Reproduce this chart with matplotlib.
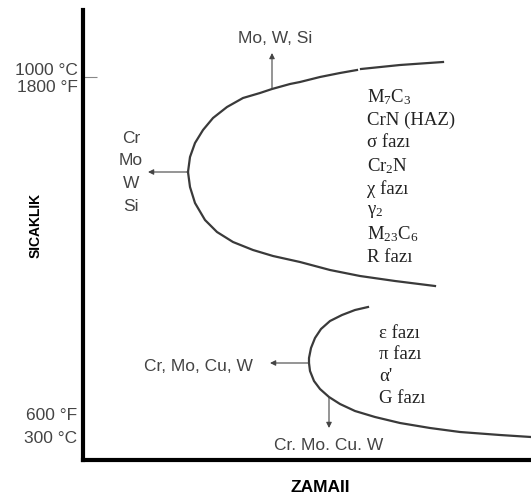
import matplotlib
matplotlib.use("Agg")
import matplotlib.pyplot as plt

plt.rcParams['mathtext.fontset'] = 'custom'
plt.rcParams['mathtext.rm'] = 'Liberation Serif'

# Coordonnées (x vers la droite, y vers le bas)
# Courbe C supérieure : branche haute (coupée en deux) et branche basse
upper_x1 = [357, 340, 320, 300, 290, 272, 260, 243, 227, 213, 203, 195, 190, 188]
upper_y1 = [70, 73, 77, 82, 84, 89, 93, 98, 107, 118, 130, 143, 157, 172]
upper_x2 = [361, 400, 443]
upper_y2 = [69, 65, 62]
upper_low_x = [188, 190, 195, 205, 217, 233, 253, 273, 300, 330, 360, 395, 435]
upper_low_y = [172, 187, 203, 220, 232, 242, 250, 256, 262, 270, 276, 281, 286]

# Courbe C inférieure
lower_x = [368, 355, 342, 330, 321, 315, 311, 309, 309, 310, 314, 320, 329, 340, 355, 375,
           400, 430, 460, 500, 531]
lower_y = [307, 310, 315, 321, 329, 338, 348, 358, 363, 371, 381, 389, 397, 404, 411, 417,
           423, 428, 432, 435, 437]

upper_phases = [r'$\mathregular{M_7C_3}$', 'CrN (HAZ)', 'σ fazı', r'$\mathregular{Cr_2N}$',
                'χ fazı', r'$\mathregular{γ_2}$', r'$\mathregular{M_{23}C_6}$', 'R fazı']
lower_phases = ['ε fazı', 'π fazı', "α'", 'G fazı']
left_elements = ['Cr', 'Mo', 'W', 'Si']

gray = '#444444'
curve_col = '#3a3a3a'

fig = plt.figure(figsize=(5.31, 4.98), dpi=100)
ax = fig.add_axes([83 / 531, 38 / 498, 448 / 531, 450 / 498])
ax.set_xlim(83, 531)
ax.set_ylim(460, 10)
for s in ['top', 'right']:
    ax.spines[s].set_visible(False)
for s in ['left', 'bottom']:
    ax.spines[s].set_linewidth(3)
    ax.spines[s].set_color('black')
ax.set_xticks([])
ax.set_yticks([77])
ax.set_yticklabels([])
ax.tick_params(axis='y', direction='in', length=10, width=0.8, color='#888888')

# Courbes
ax.plot(upper_x1, upper_y1, color=curve_col, lw=1.6)
ax.plot(upper_x2, upper_y2, color=curve_col, lw=1.6)
ax.plot(upper_low_x, upper_low_y, color=curve_col, lw=1.6)
ax.plot(lower_x, lower_y, color=curve_col, lw=1.6, clip_on=False)

# Flèches
arrow = dict(arrowstyle='-|>', color=gray, lw=0.8, mutation_scale=8, shrinkA=0, shrinkB=0)
ax.annotate('', xy=(148, 172), xytext=(188, 172), arrowprops=arrow)
ax.annotate('', xy=(272, 53), xytext=(272, 89), arrowprops=arrow, annotation_clip=False)
ax.annotate('', xy=(270, 363), xytext=(309, 363), arrowprops=arrow)
ax.annotate('', xy=(329, 428), xytext=(329, 397), arrowprops=arrow)

sans = dict(family='Liberation Sans', color=gray, fontsize=12.5)
serif = dict(family='Liberation Serif', color='#222222', fontsize=13.5)

ax.text(275, 38, 'Mo, W, Si', ha='center', va='center', clip_on=False, **sans)
for i, el in enumerate(left_elements):
    ax.text(131, 138 + i * 22.7, el, ha='center', va='center', **sans)
ax.text(198, 366, 'Cr, Mo, Cu, W', ha='center', va='center', **sans)
ax.text(329, 445, 'Cr. Mo. Cu. W', ha='center', va='center', **sans)

for i, ph in enumerate(upper_phases):
    ax.text(367, 97 + i * 22.9, ph, ha='left', va='center', **serif)
for i, ph in enumerate(lower_phases):
    ax.text(379, 333 + i * 21.7, ph, ha='left', va='center', **serif)

# Étiquettes de température
ax.text(78, 70, '1000 °C', ha='right', va='center', clip_on=False, **sans)
ax.text(78, 87, '1800 °F', ha='right', va='center', clip_on=False, **sans)
ax.text(77, 415, '600 °F', ha='right', va='center', clip_on=False, **sans)
ax.text(77, 438, '300 °C', ha='right', va='center', clip_on=False, **sans)

ax.text(36, 225, 'SICAKLIK', rotation=90, ha='center', va='center', fontweight='bold',
        family='Liberation Sans', fontsize=10, clip_on=False)
ax.text(320, 487, 'ZAMAII', ha='center', va='center', fontweight='bold',
        family='Liberation Sans', fontsize=12.5, clip_on=False)

fig.savefig('out.png', dpi=100)
